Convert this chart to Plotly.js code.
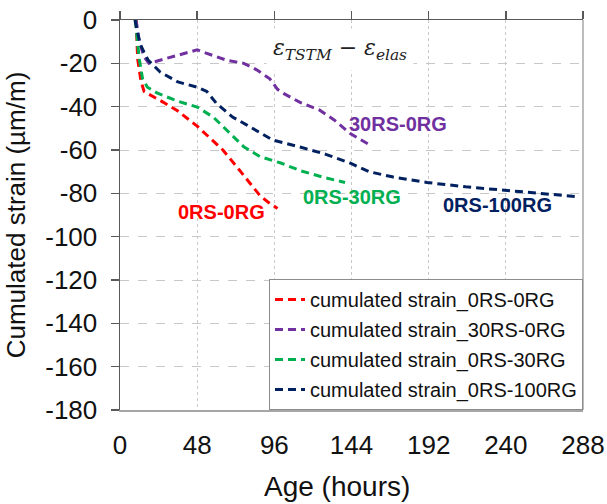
<!DOCTYPE html>
<html>
<head>
<meta charset="utf-8">
<script src="https://cdn.plot.ly/plotly-3.0.1.min.js"></script>
<style>html,body{margin:0;padding:0;background:#fff;}#chart{width:607px;height:504px;}</style>
</head>
<body>
<div id="chart"></div>
<script>
// Age (hours) and cumulated strain (µm/m) for each mix
const ageRS0RG0 = [10, 11, 13, 15, 27, 36, 48, 64, 74, 87, 92, 98];
const strainRS0RG0 = [0, -18, -28, -33, -38, -42, -49, -60, -69, -81, -84, -87];

const ageRS30RG0 = [10, 12, 15, 18, 30, 48, 54, 66, 77, 85, 93, 98, 102, 112, 124, 133, 143, 155];
const strainRS30RG0 = [0, -10, -17, -20, -17.5, -13.8, -15.4, -18.5, -20, -23, -27, -32, -34, -38, -41.5, -46, -52.3, -57.5];

const ageRS0RG30 = [9.5, 10.5, 12, 14, 17, 23, 36, 48, 58, 68, 77, 87, 100, 112, 126, 140];
const strainRS0RG30 = [0, -8, -18, -27, -31, -33.7, -37.5, -40.2, -44.8, -52, -58.5, -63, -66, -69.5, -72.5, -75];

const ageRS0RG100 = [9.3, 11, 12.5, 15, 17.5, 25, 36, 48, 54, 60, 70, 79, 95, 112, 128, 143, 155, 170, 191, 215, 238, 260, 284];
const strainRS0RG100 = [0, -6, -11, -15, -18.5, -24, -28.6, -31, -33, -38.5, -44.8, -48.5, -55.4, -58.6, -62, -66, -70, -72.5, -75, -77, -78.5, -80, -81.5];

const seriesNames = ["cumulated strain_0RS-0RG", "cumulated strain_30RS-0RG", "cumulated strain_0RS-30RG", "cumulated strain_0RS-100RG"];
const seriesColors = ["#FF0000", "#7030A0", "#00B050", "#002060"];

const xTicks = [0, 48, 96, 144, 192, 240, 288];
const yTicks = [0, -20, -40, -60, -80, -100, -120, -140, -160, -180];

// in-plot labels
const labelText = ["0RS-0RG", "30RS-0RG", "0RS-30RG", "0RS-100RG"];
const labelX = [63.4, 173, 144.3, 235];
const labelY = [-88.6, -48, -81.7, -85.4];

const xs = [ageRS0RG0, ageRS30RG0, ageRS0RG30, ageRS0RG100];
const ys = [strainRS0RG0, strainRS30RG0, strainRS0RG30, strainRS0RG100];

const traces = xs.map((x, i) => ({
  x: x, y: ys[i], type: "scatter", mode: "lines", name: seriesNames[i],
  legendgroup: "g" + i,
  line: {color: seriesColors[i], width: 3, dash: "8px,5px"}
}));
traces.push({x: [], y: [], xaxis: "x2", yaxis: "y", type: "scatter", mode: "lines", showlegend: false, hoverinfo: "skip"});

const FONT = "Liberation Sans, Arial, sans-serif";

const annotations = labelText.map((t, i) => ({
  x: labelX[i], y: labelY[i], xref: "x", yref: "y", text: "<b>" + t + "</b>",
  showarrow: false, font: {family: FONT, size: 20, color: seriesColors[i]},
  xanchor: "center", yanchor: "middle"
}));
annotations.push({
  x: 137, y: -13.4, xref: "x", yref: "y",
  text: "<i>ε<sub>TSTM</sub></i> − <i>ε<sub>elas</sub></i>",
  showarrow: false, font: {family: "DejaVu Serif, Liberation Serif, serif", size: 22, color: "#222"},
  bgcolor: "#ffffff", borderpad: 6, xanchor: "center", yanchor: "middle"
});
annotations.push({
  x: 0.469, y: -0.197, xref: "paper", yref: "paper", text: "Age (hours)",
  showarrow: false, font: {family: FONT, size: 28, color: "#111"},
  xanchor: "center", yanchor: "middle"
});

const layout = {
  width: 607, height: 504,
  margin: {l: 120, r: 24, t: 20, b: 94},
  paper_bgcolor: "#ffffff", plot_bgcolor: "#ffffff",
  font: {family: FONT, color: "#111"},
  showlegend: true,
  legend: {
    x: 1, xanchor: "right", y: 0, yanchor: "bottom",
    bgcolor: "#ffffff", bordercolor: "#8c8c8c", borderwidth: 1,
    font: {family: FONT, size: 20, color: "#111"},
    tracegroupgap: 1, traceorder: "grouped", itemwidth: 30
  },
  xaxis: {
    range: [0, 288], tickvals: xTicks, ticktext: xTicks.map(String),
    side: "bottom", showline: true, linecolor: "#a6a6a6", linewidth: 1.5,
    ticks: "", showgrid: true, gridcolor: "#c8c8c8", griddash: "dot", gridwidth: 1,
    zeroline: false, tickfont: {family: FONT, size: 26, color: "#111"},
    ticklabelstandoff: 11, fixedrange: true
  },
  xaxis2: {
    overlaying: "x", side: "top", anchor: "y", range: [0, 288], tickvals: xTicks,
    showticklabels: false, ticks: "outside", ticklen: 8, tickcolor: "#595959", tickwidth: 1.5,
    showline: true, linecolor: "#595959", linewidth: 1.5, showgrid: false, zeroline: false
  },
  yaxis: {
    range: [-180, 0], tickvals: yTicks, ticktext: yTicks.map(String),
    ticks: "outside", ticklen: 8, tickcolor: "#595959", tickwidth: 1.5,
    showline: true, linecolor: "#595959", linewidth: 1.5,
    showgrid: true, gridcolor: "#c8c8c8", griddash: "dash", gridwidth: 1,
    zeroline: false, tickfont: {family: FONT, size: 26, color: "#111"},
    ticklabelstandoff: 8,
    title: {text: "Cumulated strain (µm/m)", font: {family: FONT, size: 26, color: "#111"}, standoff: 12}
  },
  shapes: [{type: "line", xref: "paper", yref: "paper", x0: 1, x1: 1, y0: 0, y1: 1,
    line: {color: "#a6a6a6", width: 1.5}}],
  annotations: annotations
};

Plotly.newPlot("chart", traces, layout, {staticPlot: true, displayModeBar: false});
</script>
</body>
</html>
